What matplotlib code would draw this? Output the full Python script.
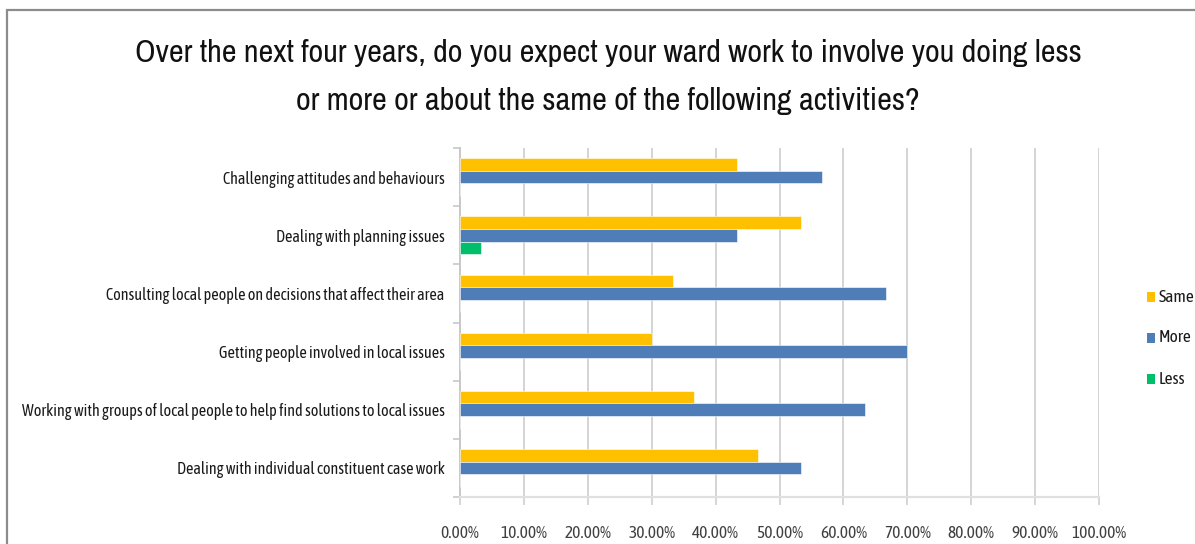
import matplotlib
matplotlib.use("Agg")
import matplotlib.pyplot as plt
from matplotlib import font_manager
from matplotlib.patches import Rectangle
from matplotlib.ticker import FixedLocator
import numpy as np

categories = [
    "Challenging attitudes and behaviours",
    "Dealing with planning issues",
    "Consulting local people on decisions that affect their area",
    "Getting people involved in local issues",
    "Working with groups of local people to help find solutions to local issues",
    "Dealing with individual constituent case work",
]
same = [43.33, 53.33, 33.33, 30.00, 36.67, 46.67]
more = [56.67, 43.33, 66.67, 70.00, 63.33, 53.33]
less = [0.00, 3.33, 0.00, 0.00, 0.00, 0.00]
series_names = ["Same", "More", "Less"]
series_colors = ["#FFC000", "#4F7DB8", "#00BE6A"]
x_ticks = [0, 10, 20, 30, 40, 50, 60, 70, 80, 90, 100]
title_lines = [
    "Over the next four years, do you expect your ward work to involve you doing less",
    "or more or about the same of the following activities?",
]

available = {f.name for f in font_manager.fontManager.ttflist}


def pick(*names):
    for nm in names:
        if nm in available:
            return nm
    return "DejaVu Sans"


title_font = pick("Liberation Sans Narrow", "Arimo Narrow", "Archivo Narrow",
                  "Roboto Condensed", "PT Sans Narrow")
label_font = pick("Asap Condensed", "Cabin Condensed", "Barlow Semi Condensed", "Carlito")

W, H = 1195, 544
fig = plt.figure(figsize=(W / 100, H / 100), dpi=100)
fig.patch.set_facecolor("white")

# outer chart frame (top and left edges visible)
fig.add_artist(Rectangle((7 / W, -0.1), 1.2, (H - 10) / H + 0.1,
                         transform=fig.transFigure, fill=False,
                         edgecolor="#8c8c8c", linewidth=1.6))

ax_left, ax_right = 460, 1099
ax_top, ax_bottom = 148, 497
ax = fig.add_axes([ax_left / W, 1 - ax_bottom / H,
                   (ax_right - ax_left) / W, (ax_bottom - ax_top) / H])

n = len(categories)
bar_h = 0.215
pos = np.arange(n)
offsets = [-bar_h, 0.0, bar_h]
for vals, off, col, name in zip([same, more, less], offsets, series_colors, series_names):
    ax.barh(pos + off, vals, height=bar_h, color=col, label=name,
            edgecolor="white", linewidth=0.4, zorder=3)

ax.set_xlim(0, 100)
ax.set_ylim(n - 0.5, -0.5)
ax.xaxis.set_major_locator(FixedLocator(x_ticks))
ax.set_xticklabels([f"{t:.2f}%" for t in x_ticks], fontfamily=label_font,
                   fontweight="normal", fontsize=12.5, color="#404040")
ax.tick_params(axis="x", length=6, width=1.2, color="#d0d0d0", pad=14)
ax.grid(axis="x", color="#d4d4d4", linewidth=1.4, zorder=0)

ax.set_yticks(pos)
ax.set_yticklabels(categories, fontfamily=label_font, fontweight="normal",
                   fontsize=11.6, color="#1a1a1a")
ax.tick_params(axis="y", length=0, pad=11)
ax.set_yticks(np.arange(n + 1) - 0.5, minor=True)
ax.tick_params(axis="y", which="minor", length=5, width=1.2, color="#c8c8c8")

for side in ["top", "right"]:
    ax.spines[side].set_visible(False)
ax.spines["left"].set_color("#c8c8c8")
ax.spines["left"].set_linewidth(1.4)
ax.spines["bottom"].set_color("#e0e0e0")
ax.spines["bottom"].set_linewidth(1.6)

for i, line in enumerate(title_lines):
    fig.text(608 / W, 1 - (53 + 48 * i) / H, line,
             ha="center", va="center", fontsize=23.2, fontfamily=title_font,
             color="#111111")

# legend
for i, (name, col) in enumerate(zip(series_names, series_colors)):
    yc = 297 + i * 41
    fig.add_artist(Rectangle((1147 / W, 1 - (yc + 5) / H), 8 / W, 10 / H,
                             transform=fig.transFigure, facecolor=col, edgecolor="none"))
    fig.text(1159 / W, 1 - yc / H, name, ha="left", va="center",
             fontsize=12.5, fontweight="normal", fontfamily=label_font, color="#1a1a1a")

fig.savefig("out.png", dpi=100)
